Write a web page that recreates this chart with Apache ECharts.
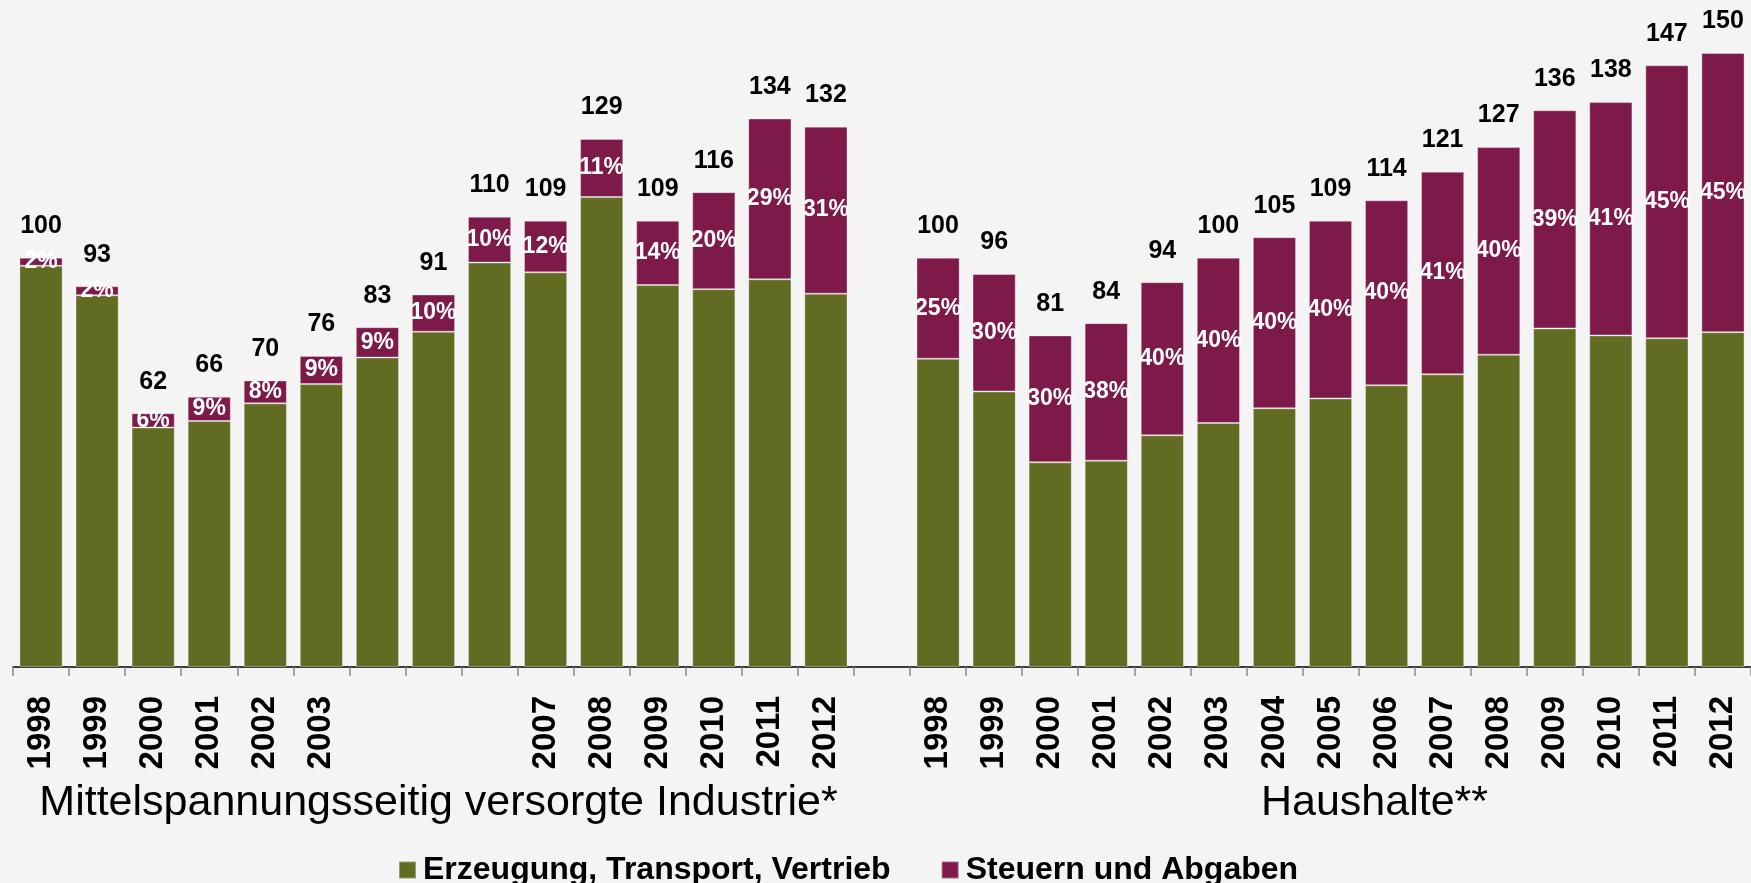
<!DOCTYPE html>
<html>
<head>
<meta charset="utf-8">
<script src="https://cdn.jsdelivr.net/npm/echarts@6/dist/echarts.min.js"></script>
<style>
html,body{margin:0;padding:0;background:#f4f4f4;}
#c{width:1751px;height:883px;}
</style>
</head>
<body>
<div id="c"></div>
<script>
// Years shown under each bar ('' = label not shown in the original)
var industryYears = ['1998','1999','2000','2001','2002','2003','','','','2007','2008','2009','2010','2011','2012'];
var householdYears = ['1998','1999','2000','2001','2002','2003','2004','2005','2006','2007','2008','2009','2010','2011','2012'];

// Mittelspannungsseitig versorgte Industrie*
var industryTotal = [100, 93, 62, 66, 70, 76, 83, 91, 110, 109, 129, 109, 116, 134, 132];
var industryGreen = [98.0, 90.8, 58.5, 60.1, 64.4, 69.1, 75.6, 81.9, 98.8, 96.4, 114.8, 93.3, 92.3, 94.7, 91.2];
var industryPurple = [2.0, 2.2, 3.5, 5.9, 5.6, 6.9, 7.4, 9.1, 11.2, 12.6, 14.2, 15.7, 23.7, 39.3, 40.8];
var industryShare = ['2%','2%','6%','9%','8%','9%','9%','10%','10%','12%','11%','14%','20%','29%','31%'];

// Haushalte**
var householdTotal = [100, 96, 81, 84, 94, 100, 105, 109, 114, 121, 127, 136, 138, 147, 150];
var householdGreen = [75.3, 67.3, 50.0, 50.4, 56.6, 59.6, 63.2, 65.6, 68.8, 71.5, 76.3, 82.7, 81.0, 80.3, 81.8];
var householdPurple = [24.7, 28.7, 31.0, 33.6, 37.4, 40.4, 41.8, 43.4, 45.2, 49.5, 50.7, 53.3, 57.0, 66.7, 68.2];
var householdShare = ['25%','30%','30%','38%','40%','40%','40%','40%','40%','41%','40%','39%','41%','45%','45%'];

var groupTitles = ['Mittelspannungsseitig versorgte Industrie*', 'Haushalte**'];
var seriesNames = ['Erzeugung, Transport, Vertrieb', 'Steuern und Abgaben'];

var FONT = "'Liberation Sans', Arial, Helvetica, sans-serif";
var GREEN = '#626b22';
var PURPLE = '#7e1a4a';

// build the 31 category slots: 15 industry, 1 gap, 15 households
var labels = industryYears.concat([''], householdYears);
var cats = labels.map(function (l, i) { return 'c' + i; });
var green = industryGreen.concat([null], householdGreen);
var purple = industryPurple.concat([null], householdPurple);
var totals = industryTotal.concat([null], householdTotal);
var shares = industryShare.concat([''], householdShare);

var chart = echarts.init(document.getElementById('c'), null, {renderer: 'canvas'});
chart.setOption({
  backgroundColor: '#f4f4f4',
  animation: false,
  textStyle: {fontFamily: FONT},
  grid: {left: 13, right: -4, top: 12, bottom: 216, containLabel: false},
  legend: {
    data: seriesNames,
    left: 393, top: 849,
    icon: 'rect', itemWidth: 17, itemHeight: 17, itemGap: 50,
    textStyle: {fontFamily: FONT, fontSize: 32, fontWeight: 'bold', color: '#000', padding: [0, 0, 0, 2]}
  },
  xAxis: {
    type: 'category',
    data: cats,
    axisLine: {show: true, lineStyle: {color: '#000', width: 1.5}},
    axisTick: {show: true, interval: 0, length: 9, lineStyle: {color: '#888', width: 1.5}},
    axisLabel: {
      interval: 0, rotate: 90, margin: 29,
      fontFamily: FONT, fontSize: 33, fontWeight: 'bold', color: '#000',
      formatter: function (v, i) { return labels[i]; }
    }
  },
  yAxis: {type: 'value', min: 0, max: 160, show: false},
  series: [
    {
      name: seriesNames[0], type: 'bar', stack: 'a', data: green,
      barCategoryGap: '23%',
      itemStyle: {color: GREEN, borderColor: 'rgba(255,255,255,0.35)', borderWidth: 1}
    },
    {
      name: seriesNames[1], type: 'bar', stack: 'a', data: purple,
      barCategoryGap: '23%',
      itemStyle: {color: PURPLE, borderColor: 'rgba(255,255,255,0.35)', borderWidth: 1},
      label: {
        show: true, position: 'inside', color: '#fff',
        fontFamily: FONT, fontSize: 23, fontWeight: 'bold',
        formatter: function (p) { return shares[p.dataIndex]; }
      }
    },
    {
      name: 'total', type: 'bar', data: totals, barGap: '-100%',
      barCategoryGap: '23%', silent: true, z: 1,
      itemStyle: {color: 'rgba(0,0,0,0)'},
      label: {
        show: true, position: 'top', distance: 19, color: '#000',
        fontFamily: FONT, fontSize: 25, fontWeight: 'bold',
        formatter: function (p) { return p.value == null ? '' : String(p.value); }
      }
    }
  ]
});

// group titles placed relative to their bar groups (positions from the axis scale)
function placeTitles() {
  var a = chart.convertToPixel({xAxisIndex: 0}, 'c0');
  var b = chart.convertToPixel({xAxisIndex: 0}, 'c14');
  var c = chart.convertToPixel({xAxisIndex: 0}, 'c16');
  var d = chart.convertToPixel({xAxisIndex: 0}, 'c30');
  var x1 = (a + b) / 2 + 5;
  var x2 = (c + d) / 2 + 44;
  chart.setOption({
    graphic: [
      {type: 'text', id: 't1', x: x1, y: 803, style: {text: groupTitles[0], fill: '#000', font: '43px ' + FONT, textAlign: 'center', textVerticalAlign: 'middle'}},
      {type: 'text', id: 't2', x: x2, y: 803, style: {text: groupTitles[1], fill: '#000', font: '43px ' + FONT, textAlign: 'center', textVerticalAlign: 'middle'}}
    ]
  });
}
placeTitles();
</script>
</body>
</html>
